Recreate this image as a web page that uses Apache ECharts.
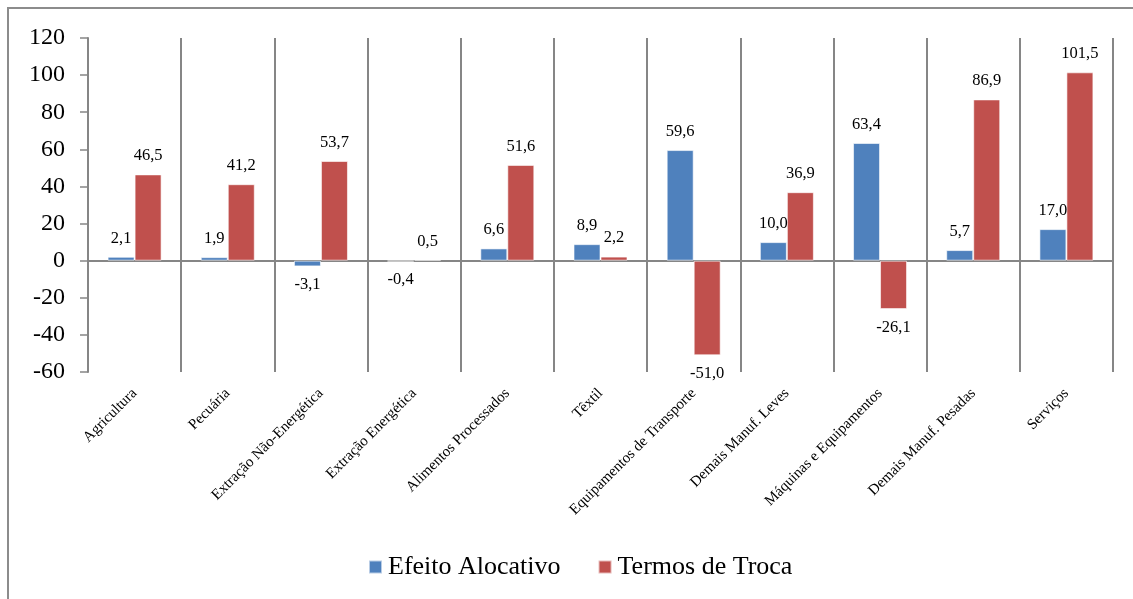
<!DOCTYPE html>
<html>
<head>
<meta charset="utf-8">
<script src="https://cdn.jsdelivr.net/npm/echarts@6/dist/echarts.min.js"></script>
<style>html,body{margin:0;padding:0;background:#fff}#c{width:1133px;height:599px}</style>
</head>
<body>
<div id="c"></div>
<script>
const categories = ["Agricultura","Pecuária","Extração Não-Energética","Extração Energética","Alimentos Processados","Têxtil","Equipamentos de Transporte","Demais Manuf. Leves","Máquinas e Equipamentos","Demais Manuf. Pesadas","Serviços"];
const efeitoAlocativo = [2.1,1.9,-3.1,-0.4,6.6,8.9,59.6,10.0,63.4,5.7,17.0];
const termosDeTroca = [46.5,41.2,53.7,0.5,51.6,2.2,-51.0,36.9,-26.1,86.9,101.5];
const yTicks = {min:-60,max:120,interval:20};

const font = "Liberation Serif";
function items(arr){
  return arr.map(v => ({value:v, label:{position: v<0 ? 'bottom' : 'top'}}));
}
const fmt = p => p.value.toFixed(1).replace('.',',');
const chart = echarts.init(document.getElementById('c'));
chart.setOption({
  animation:false,
  backgroundColor:'#fff',
  graphic:[{type:'rect',shape:{x:8,y:8,width:1140,height:600},style:{fill:'none',stroke:'#8c8c8c',lineWidth:2},silent:true,z:-1}],
  grid:{left:88,right:20,top:38,bottom:227,containLabel:false},
  legend:{
    data:['Efeito Alocativo','Termos de Troca'],
    bottom:14,left:363,itemWidth:13,itemHeight:13,itemGap:37,
    icon:'rect',
    textStyle:{fontFamily:font,fontSize:26,color:'#000',padding:[0,0,0,1]}
  },
  xAxis:{
    type:'category',data:categories,
    axisLine:{onZero:true,lineStyle:{color:'#868686',width:2}},
    axisTick:{show:true,length:6,lineStyle:{color:'#868686',width:1.5}},
    splitLine:{show:true,lineStyle:{color:'#868686',width:2}},
    axisLabel:{rotate:45,interval:0,fontFamily:font,fontSize:15,color:'#000',margin:19}
  },
  yAxis:{
    type:'value',min:yTicks.min,max:yTicks.max,interval:yTicks.interval,
    axisLine:{show:true,lineStyle:{color:'#868686',width:2}},
    axisTick:{show:true,length:8,lineStyle:{color:'#868686',width:1.5}},
    splitLine:{show:false},
    axisLabel:{fontFamily:font,fontSize:24,color:'#000',margin:23}
  },
  series:[
    {name:'Efeito Alocativo',type:'bar',data:items(efeitoAlocativo),barWidth:27,barGap:'0%',
     itemStyle:{color:'#4F81BD',borderColor:'rgba(255,255,255,0.6)',borderWidth:1},
     label:{show:true,distance:10,fontFamily:font,fontSize:16.5,color:'#000',formatter:fmt}},
    {name:'Termos de Troca',type:'bar',data:items(termosDeTroca),barWidth:27,barGap:'0%',
     itemStyle:{color:'#C0504D',borderColor:'rgba(255,255,255,0.6)',borderWidth:1},
     label:{show:true,distance:10,fontFamily:font,fontSize:16.5,color:'#000',formatter:fmt}}
  ]
});
</script>
</body>
</html>
